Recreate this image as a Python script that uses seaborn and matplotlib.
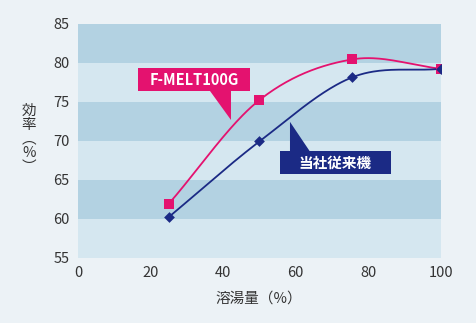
import numpy as np
import pandas as pd
import matplotlib
matplotlib.use("Agg")
import matplotlib.pyplot as plt
from matplotlib.patches import Polygon, Rectangle
import seaborn as sns

# ---- data ----
melt_x = [25, 50, 75.5, 100]
melt_y = [61.9, 75.2, 80.4, 79.2]
old_x = [25, 50, 75.5, 100]
old_y = [60.2, 69.9, 78.1, 79.2]
series_names = ["F-MELT100G", "当社従来機"]
x_ticks = [0, 20, 40, 60, 80, 100]
y_ticks = [55, 60, 65, 70, 75, 80, 85]
x_label = "溶湯量（%）"
y_label = "効\n率\n︵\n%\n︶"

RED = "#e4126f"
BLUE = "#1b2a85"
BG = "#ecf2f6"
DARK = "#b3d2e2"
LIGHT = "#d5e7f0"

sns.set_style("white")
plt.rcParams["font.family"] = ["Noto Sans CJK JP", "DejaVu Sans"]


def smooth(xs, ys, n=60):
    """Catmull-Rom style cubic Hermite through the points."""
    xs = np.asarray(xs, float); ys = np.asarray(ys, float)
    k = len(xs)
    m = np.zeros(k)
    for i in range(k):
        if i == 0:
            m[i] = (ys[1] - ys[0]) / (xs[1] - xs[0])
        elif i == k - 1:
            m[i] = (ys[-1] - ys[-2]) / (xs[-1] - xs[-2])
        else:
            m[i] = (ys[i + 1] - ys[i - 1]) / (xs[i + 1] - xs[i - 1])
    outx, outy = [], []
    for i in range(k - 1):
        h = xs[i + 1] - xs[i]
        t = np.linspace(0, 1, n)
        h00 = 2 * t**3 - 3 * t**2 + 1
        h10 = t**3 - 2 * t**2 + t
        h01 = -2 * t**3 + 3 * t**2
        h11 = t**3 - t**2
        outx.append(xs[i] + t * h)
        outy.append(h00 * ys[i] + h10 * h * m[i] + h01 * ys[i + 1] + h11 * h * m[i + 1])
    return np.concatenate(outx), np.concatenate(outy)


fig = plt.figure(figsize=(4.77, 3.23), dpi=100, facecolor=BG)
ax = fig.add_axes([0.1635, 0.2022, 0.761, 0.725])
ax.set_facecolor(LIGHT)
for lo, hi in zip(y_ticks[:-1], y_ticks[1:]):
    if (lo - y_ticks[0]) // 5 % 2 == 1:
        ax.axhspan(lo, hi, color=DARK, lw=0, zorder=0)

mx, my = smooth(melt_x, melt_y)
ox, oy = smooth(old_x, old_y)
sns.lineplot(x=mx, y=my, ax=ax, color=RED, lw=1.3, zorder=3, sort=False)
sns.lineplot(x=ox, y=oy, ax=ax, color=BLUE, lw=1.3, zorder=3, sort=False)
sns.scatterplot(x=melt_x, y=melt_y, ax=ax, color=RED, marker="s", s=50, linewidth=0, zorder=4)
sns.scatterplot(x=old_x, y=old_y, ax=ax, color=BLUE, marker="D", s=30, linewidth=0, zorder=4)

# callouts
ax.add_patch(Rectangle((16.5, 76.3), 30.9, 2.95, color=RED, lw=0, zorder=5))
ax.add_patch(Polygon([(36.4, 76.4), (42.2, 76.4), (42.2, 72.6)], color=RED, lw=0, zorder=5))
ax.text(32.0, 77.78, series_names[0], color="white", fontsize=10.5, fontweight="bold",
        ha="center", va="center", zorder=6)
ax.add_patch(Rectangle((55.6, 65.75), 30.5, 2.95, color=BLUE, lw=0, zorder=5))
ax.add_patch(Polygon([(58.4, 68.6), (58.4, 72.4), (63.9, 68.6)], color=BLUE, lw=0, zorder=5))
ax.text(70.8, 67.22, series_names[1], color="white", fontsize=10.5, fontweight="bold",
        ha="center", va="center", zorder=6)

ax.set_xlim(0, 100)
ax.set_ylim(55, 85)
ax.set_xticks(x_ticks)
ax.set_yticks(y_ticks)
ax.tick_params(length=0, labelsize=10.5, colors="#333333", pad=6)
for s in ax.spines.values():
    s.set_visible(False)
ax.set_xlabel("")
ax.set_ylabel("")
fig.text(0.542, 0.075, x_label, ha="center", va="center", fontsize=10.5, color="#333333")
fig.text(0.061, 0.57, y_label, ha="center", va="center", fontsize=10.5, color="#333333",
         linespacing=1.0)

fig.savefig("out.png", dpi=100, facecolor=BG)
